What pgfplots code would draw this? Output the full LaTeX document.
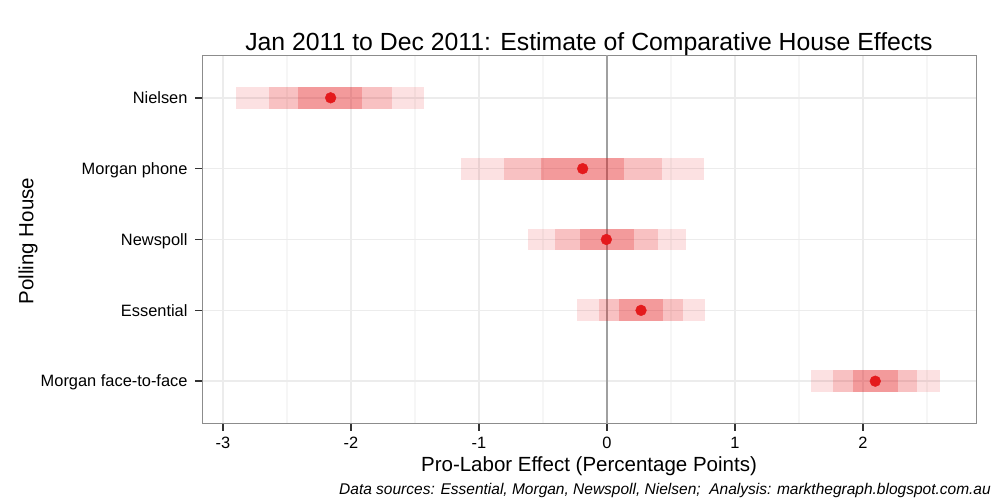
\documentclass[border=0pt]{standalone}
\usepackage{pgfplots}
\pgfplotsset{compat=1.18}
\usepackage{fontspec}
\setmainfont{Liberation Sans}
\definecolor{ptred}{HTML}{E41A1C}
\definecolor{gridmaj}{HTML}{ECECEC}
\definecolor{gridmin}{HTML}{F6F6F6}
\definecolor{zeroline}{HTML}{A0A0A0}
\definecolor{border}{HTML}{8C8C8C}
\definecolor{tickcol}{HTML}{333333}
% \band{lo}{hi}{ybottom}{ytop}{opacity}
\newcommand{\band}[5]{\addplot[draw=none, fill=ptred, fill opacity=#5] coordinates {(#1,#3) (#2,#3) (#2,#4) (#1,#4)} -- cycle;}
\begin{document}
\begin{tikzpicture}
\path[use as bounding box] (0,0) rectangle (1000bp,500bp);
\begin{axis}[
  at={(202bp,76.3bp)}, anchor=south west,
  scale only axis, width=774bp, height=368.4bp,
  xmin=-3.164, xmax=2.883, ymin=0.4, ymax=5.6,
  xtick={-3,-2,-1,0,1,2},
  xticklabels={-3,-2,-1,0,1,2},
  minor xtick={-2.5,-1.5,-0.5,0.5,1.5,2.5},
  ytick={1,2,3,4,5},
  yticklabels={Morgan face-to-face,Essential,Newspoll,Morgan phone,Nielsen},
  xmajorgrids, xminorgrids, ymajorgrids,
  major grid style={gridmaj, line width=1.5bp},
  minor grid style={gridmin, line width=1.5bp},
  tick align=outside,
  xtick pos=bottom, ytick pos=left,
  major tick length=7bp, minor tick length=0pt,
  major tick style={tickcol, line width=1.5bp},
  axis line style={border, line width=1bp},
  ticklabel style={font=\fontsize{16.4bp}{19bp}\selectfont, inner sep=0pt, text=black},
  xticklabel style={anchor=base, yshift=-17.8bp},
  yticklabel style={anchor=base east, xshift=-7.3bp, yshift=-5.8bp},
]
\addplot[zeroline, line width=1.5bp, forget plot] coordinates {(0,0.4) (0,5.6)};
% Nielsen (y=5)
\band{-2.897}{-1.432}{4.845}{5.155}{0.13}
\band{-2.641}{-1.681}{4.845}{5.155}{0.16}
\band{-2.411}{-1.911}{4.845}{5.155}{0.23}
% Morgan phone (y=4)
\band{-1.144}{0.758}{3.845}{4.155}{0.13}
\band{-0.808}{0.431}{3.845}{4.155}{0.16}
\band{-0.513}{0.133}{3.845}{4.155}{0.23}
% Newspoll (y=3)
\band{-0.617}{0.617}{2.845}{3.155}{0.13}
\band{-0.406}{0.398}{2.845}{3.155}{0.16}
\band{-0.213}{0.211}{2.845}{3.155}{0.23}
% Essential (y=2)
\band{-0.232}{0.763}{1.845}{2.155}{0.13}
\band{-0.060}{0.594}{1.845}{2.155}{0.16}
\band{0.094}{0.4375}{1.845}{2.155}{0.23}
% Morgan face-to-face (y=1)
\band{1.594}{2.602}{0.845}{1.155}{0.13}
\band{1.768}{2.424}{0.845}{1.155}{0.16}
\band{1.922}{2.271}{0.845}{1.155}{0.23}
\addplot[only marks, mark=*, mark size=5.4bp, ptred] coordinates {
 (-2.159,5) (-0.19,4) (-0.005,3) (0.266,2) (2.096,1)};
\end{axis}
\node[anchor=base, inner sep=0pt, font=\fontsize{24.8bp}{28bp}\selectfont] at (589bp,449.3bp) {Jan 2011 to Dec 2011: Estimate of Comparative House Effects};
\node[anchor=base, inner sep=0pt, font=\fontsize{20.5bp}{24bp}\selectfont] at (589bp,29bp) {Pro-Labor Effect (Percentage Points)};
\node[anchor=base, inner sep=0pt, rotate=90, font=\fontsize{20.5bp}{24bp}\selectfont] at (33.3bp,259bp) {Polling House};
\node[anchor=base east, inner sep=0pt, font=\fontsize{15.5bp}{18bp}\selectfont\itshape] at (991bp,6bp) {Data sources: Essential, Morgan, Newspoll, Nielsen;\ \ Analysis: markthegraph.blogspot.com.au};
\end{tikzpicture}
\end{document}
